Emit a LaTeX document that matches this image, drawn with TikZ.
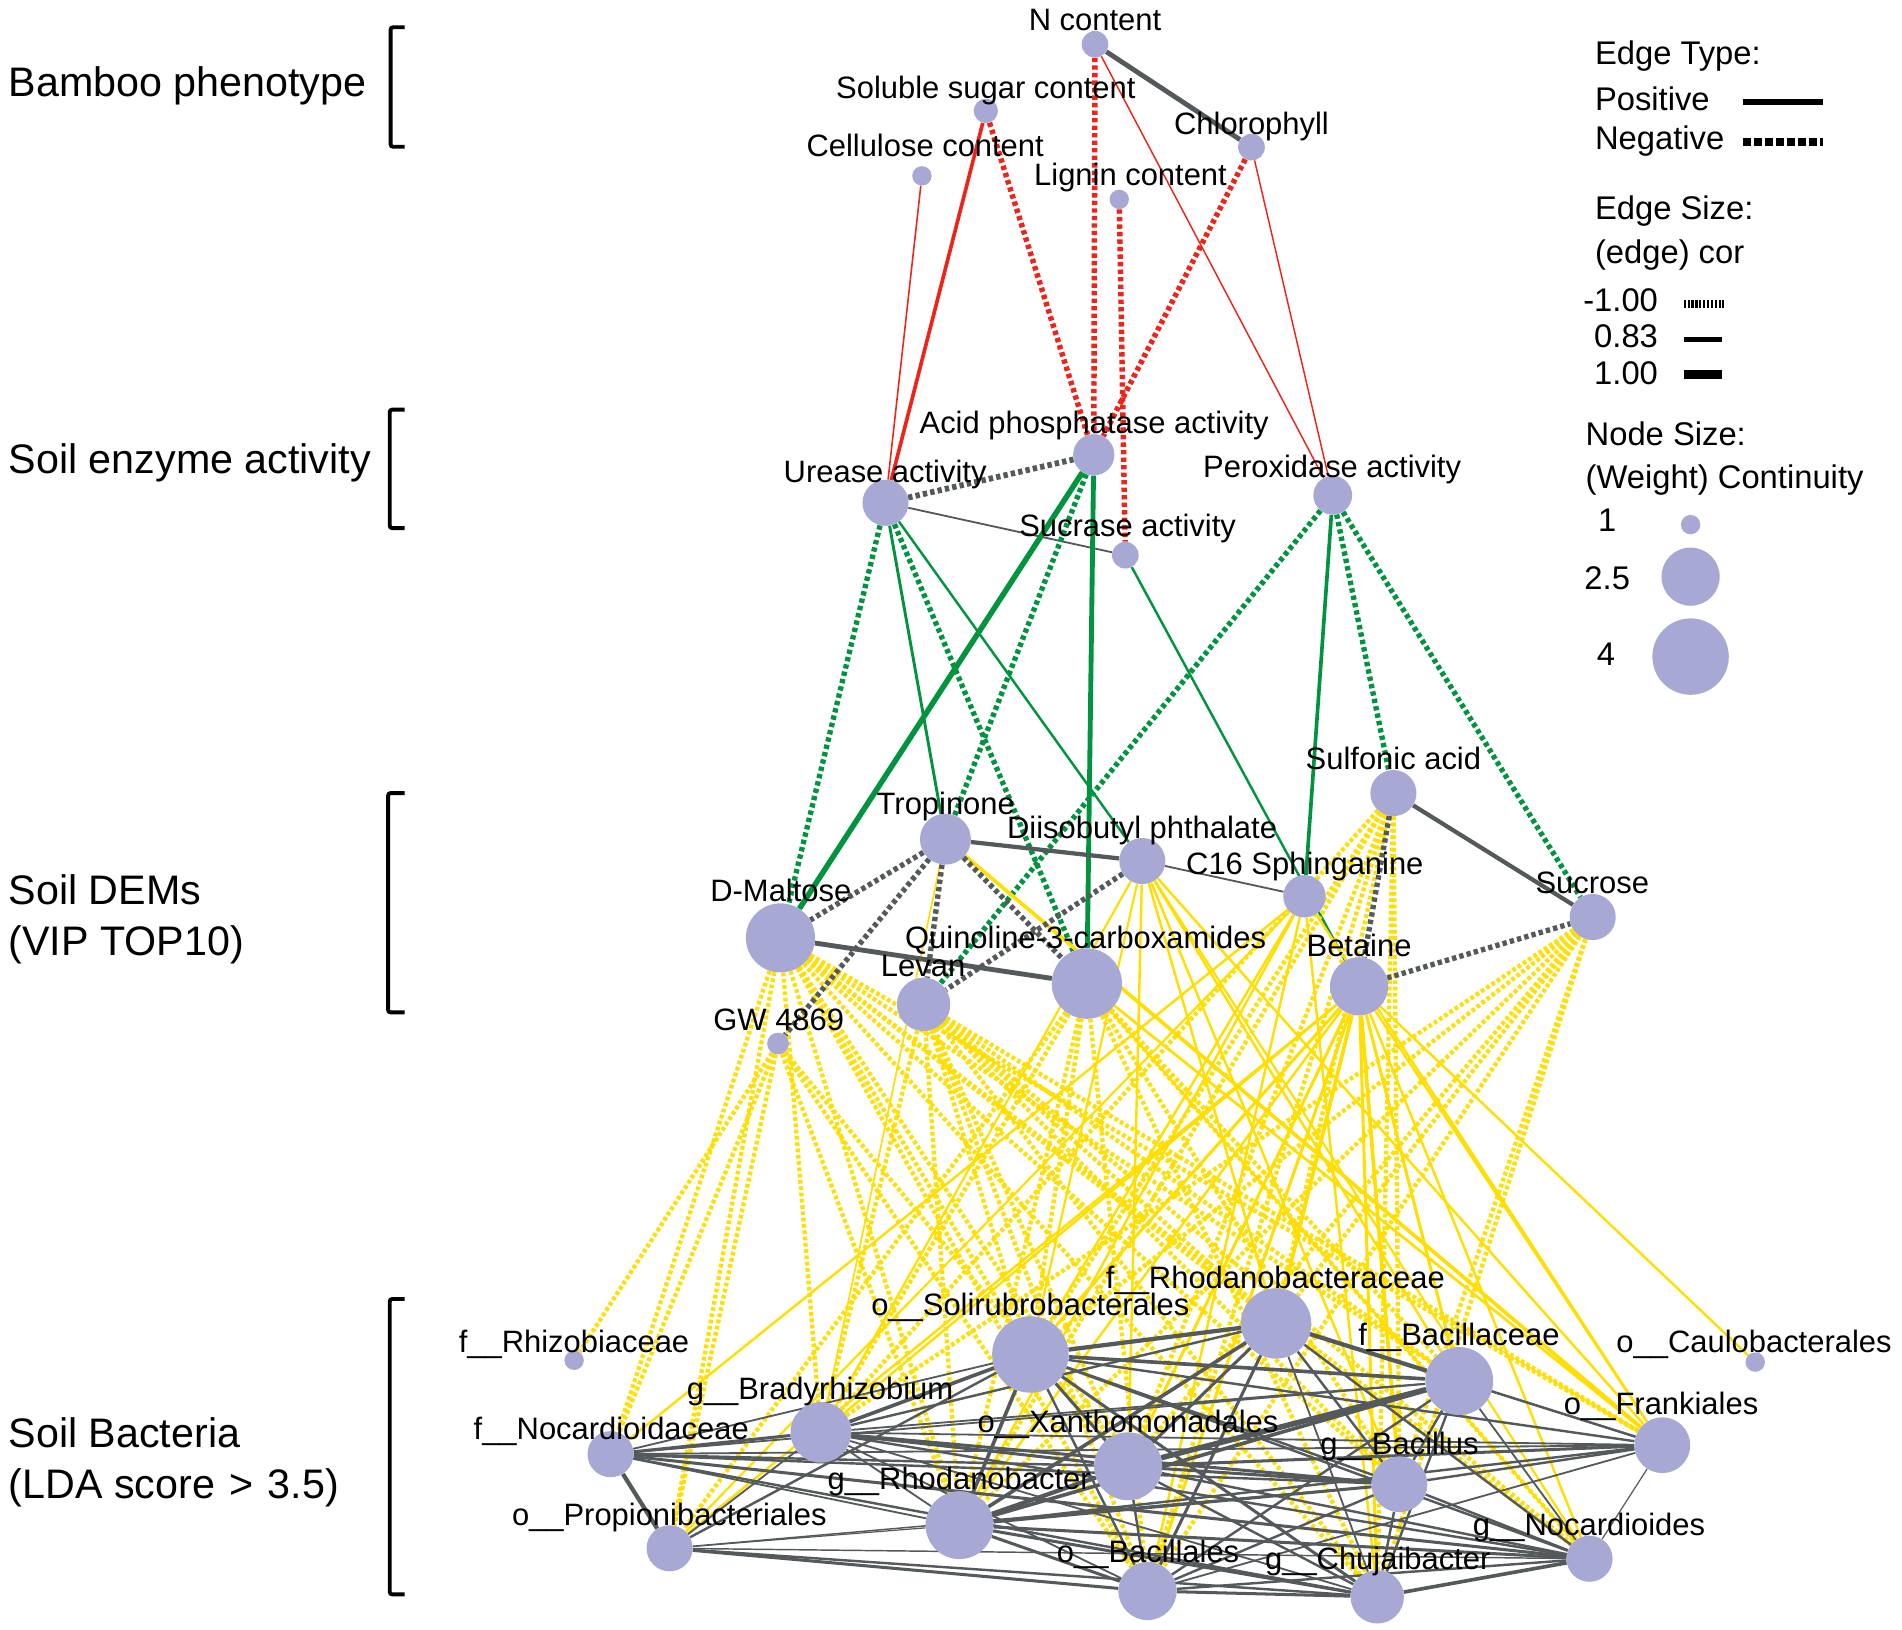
\documentclass[tikz,border=0pt]{standalone}
\usepackage{fontspec}
\setmainfont{Liberation Sans}
\usetikzlibrary{backgrounds}

\definecolor{vertcol}{RGB}{168,168,212}
\definecolor{redcol}{RGB}{236,36,26}
\definecolor{greencol}{RGB}{0,148,62}
\definecolor{yellowcol}{RGB}{255,222,0}
\definecolor{graycol}{RGB}{84,89,91}

\begin{document}
\begin{tikzpicture}[x=1pt,y=-1pt,
    vert/.style={circle,fill=vertcol,inner sep=0pt,minimum size=#1},
    lab/.style={font=\fontsize{25.5}{30}\selectfont,anchor=base,inner sep=0pt},
    grp/.style={font=\fontsize{34}{40}\selectfont,anchor=base west,inner sep=0pt},
    legtext/.style={font=\fontsize{27}{32}\selectfont,anchor=base west,inner sep=0pt},
    posedge/.style={line width=#1},
    negedge/.style={line width=#1,dash pattern=on 3.6pt off 2.6pt},
    ydot/.style={yellowcol,line width=3.6pt,dash pattern=on 3pt off 2.2pt},
    ysol/.style={yellowcol,line width=#1},
    bracket/.style={line width=3.2pt,rounded corners=2pt}]
    \useasboundingbox (0,0) rectangle (1568,1343);

    %% group labels and brackets
    \node[grp] (g-pheno) at (7,79.4) {Bamboo phenotype};
    \node[grp] (g-enzyme) at (7,390.6) {Soil enzyme activity};
    \node[grp] (g-dems) at (7,746) {Soil DEMs};
    \node[grp] (g-vip) at (7,787.4) {(VIP TOP10)};
    \node[grp] (g-bact) at (7,1193.6) {Soil Bacteria};
    \node[grp] (g-lda) at (7,1235) {(LDA score\hspace{0.35em}>\hspace{0.35em}3.5)};
    \draw[bracket] (333.5,22.5) -- (322,22.5) -- (322,121) -- (333.5,121);
    \draw[bracket] (333.5,337.7) -- (321.3,337.7) -- (321.3,435.4) -- (333.5,435.4);
    \draw[bracket] (333.5,653.8) -- (320,653.8) -- (320,834.6) -- (333.5,834.6);
    \draw[bracket] (333.5,1070.9) -- (321.3,1070.9) -- (321.3,1314.4) -- (333.5,1314.4);

    %% bamboo phenotype
    \node[vert=22] (ncont) at (902.7,36.5) {};
    \node[vert=20] (sugar) at (812.7,91.4) {};
    \node[vert=16] (cellu) at (760,145) {};
    \node[vert=16] (lignin) at (922.7,164.4) {};
    \node[vert=22] (chloro) at (1031.7,121.3) {};
    %% enzymes
    \node[vert=34] (acidp) at (901.7,374.9) {};
    \node[vert=38] (urease) at (730,414.5) {};
    \node[vert=32] (perox) at (1098.7,408.3) {};
    \node[vert=22] (sucrase) at (927.7,457.7) {};
    %% DEMs
    \node[vert=42] (tropin) at (779.4,691.8) {};
    \node[vert=38] (diiso) at (941.7,709.8) {};
    \node[vert=57] (maltose) at (643.4,773.2) {};
    \node[vert=58] (quinol) at (896,810.9) {};
    \node[vert=44] (levan) at (761.4,828) {};
    \node[vert=18] (gw) at (641.4,860.3) {};
    \node[vert=35] (sphing) at (1075.4,738.9) {};
    \node[vert=38] (sulfon) at (1148.7,653.8) {};
    \node[vert=38] (sucrose) at (1313,756) {};
    \node[vert=48] (betaine) at (1120.4,813.1) {};
    %% bacteria
    \node[vert=16] (rhizo) at (473.3,1121.4) {};
    \node[vert=38] (nocfam) at (503.3,1198.8) {};
    \node[vert=38] (propio) at (552,1276.4) {};
    \node[vert=50] (brady) at (676.7,1180.8) {};
    \node[vert=63] (soliru) at (849.4,1116.6) {};
    \node[vert=58] (rhodfam) at (1052,1091) {};
    \node[vert=56] (xantho) at (930,1208.8) {};
    \node[vert=56] (rhodgen) at (791,1257.3) {};
    \node[vert=48] (bacles) at (946,1311.6) {};
    \node[vert=56] (bacfam) at (1203,1138.5) {};
    \node[vert=46] (bacil) at (1153.7,1223.6) {};
    \node[vert=46] (frank) at (1370.4,1191.4) {};
    \node[vert=38] (nocgen) at (1310.4,1285) {};
    \node[vert=44] (chuja) at (1135.4,1316.4) {};
    \node[vert=16] (caulo) at (1447,1122.9) {};

    \begin{scope}[on background layer]
    %% phenotype - enzyme
    \draw[redcol,posedge=1.3pt] (cellu) -- (urease);
    \draw[redcol,posedge=3pt] (sugar) -- (urease);
    \draw[redcol,negedge=4.5pt] (sugar) -- (acidp);
    \draw[redcol,negedge=4.5pt] (ncont) -- (acidp);
    \draw[redcol,posedge=1.2pt] (ncont) -- (perox);
    \draw[redcol,negedge=4.5pt] (lignin) -- (sucrase);
    \draw[redcol,negedge=4.5pt] (chloro) -- (acidp);
    \draw[redcol,posedge=1.2pt] (chloro) -- (perox);
    \draw[graycol,posedge=4pt] (ncont) -- (chloro);
    \draw[graycol,negedge=4.8pt] (urease) -- (acidp);
    \draw[graycol,posedge=1.5pt] (urease) -- (sucrase);
    %% enzyme - DEMs
    \draw[greencol,negedge=4.4pt] (urease) -- (maltose);
    \draw[greencol,posedge=2.4pt] (urease) -- (tropin);
    \draw[greencol,negedge=4.4pt] (urease) -- (quinol);
    \draw[greencol,posedge=2pt] (urease) -- (diiso);
    \draw[greencol,posedge=4.5pt] (acidp) -- (maltose);
    \draw[greencol,negedge=4.4pt] (acidp) -- (tropin);
    \draw[greencol,posedge=4pt] (acidp) -- (quinol);
    \draw[greencol,posedge=2pt] (sucrase) -- (betaine);
    \draw[greencol,negedge=4.4pt] (perox) -- (levan);
    \draw[greencol,posedge=3pt] (perox) -- (sphing);
    \draw[greencol,negedge=4.4pt] (perox) -- (sulfon);
    \draw[greencol,negedge=4.4pt] (perox) -- (sucrose);
    %% DEMs - bacteria
    \foreach \a/\b in {maltose/nocfam,maltose/propio,maltose/brady,maltose/soliru,
        maltose/rhodgen,maltose/xantho,maltose/bacles,maltose/rhodfam,maltose/bacil,
        maltose/bacfam,maltose/frank,maltose/nocgen,maltose/chuja,
        gw/rhizo,gw/nocfam,gw/propio,gw/rhodgen,gw/bacles,gw/xantho,
        levan/brady,levan/soliru,levan/rhodgen,levan/xantho,levan/bacles,levan/rhodfam,
        levan/bacfam,levan/bacil,levan/frank,levan/nocgen,levan/chuja,
        quinol/propio,quinol/brady,quinol/soliru,quinol/rhodgen,quinol/bacles,
        quinol/bacfam,quinol/bacil,quinol/nocgen,quinol/chuja,
        sulfon/brady,sulfon/soliru,sulfon/xantho,sulfon/rhodgen,sulfon/rhodfam,
        sulfon/bacil,sulfon/chuja,sulfon/bacles,
        sucrose/soliru,sucrose/xantho,sucrose/rhodgen,sucrose/rhodfam,sucrose/bacil,
        sucrose/bacles,sucrose/chuja,sucrose/brady}
        \draw[ydot] (\a) -- (\b);
    \foreach \a/\b/\w in {betaine/propio/2,betaine/brady/2,betaine/soliru/2.5,
        betaine/rhodgen/2,betaine/xantho/2.5,betaine/bacles/2.5,betaine/rhodfam/3,
        betaine/bacfam/2.5,betaine/bacil/3,betaine/chuja/2.5,betaine/nocgen/2,
        betaine/frank/2,betaine/caulo/2,
        diiso/brady/1.8,diiso/soliru/1.8,diiso/xantho/2,diiso/rhodfam/2,diiso/bacil/2,
        diiso/frank/2,diiso/nocgen/1.8,diiso/bacfam/2,
        sphing/nocfam/2,sphing/propio/1.8,sphing/soliru/2,sphing/rhodgen/2,
        sphing/bacles/2,sphing/chuja/2,sphing/frank/2,
        tropin/brady/1.4,tropin/frank/3,quinol/frank/2.2,quinol/nocgen/1.8}
        \draw[ysol=\w pt] (\a) -- (\b);
    %% DEMs
    \draw[graycol,posedge=3.5pt] (tropin) -- (diiso);
    \draw[graycol,posedge=1.5pt] (diiso) -- (sphing);
    \draw[graycol,posedge=4pt] (maltose) -- (quinol);
    \draw[graycol,negedge=4.4pt] (tropin) -- (maltose);
    \draw[graycol,negedge=4.4pt] (tropin) -- (gw);
    \draw[graycol,negedge=4.4pt] (tropin) -- (levan);
    \draw[graycol,negedge=4.4pt] (tropin) -- (quinol);
    \draw[graycol,negedge=4.4pt] (diiso) -- (levan);
    \draw[graycol,posedge=3.5pt] (sulfon) -- (sucrose);
    \draw[graycol,negedge=4.4pt] (sulfon) -- (betaine);
    \draw[graycol,negedge=4.4pt] (betaine) -- (sucrose);
    %% bacteria
    \foreach \a/\b/\w in {nocfam/propio/3.5,nocfam/brady/2.5,nocfam/xantho/2,
        nocfam/bacil/2,nocfam/frank/1.5,nocfam/nocgen/2.5,nocfam/chuja/2,
        nocfam/rhodgen/1.5,nocfam/soliru/1.5,nocfam/bacfam/1.5,
        propio/rhodgen/1,propio/bacles/2.5,propio/chuja/2,propio/nocgen/1.2,
        propio/soliru/2,propio/brady/1.5,propio/bacil/1.2,
        brady/soliru/3,brady/rhodfam/2,brady/xantho/2.5,brady/rhodgen/1.5,
        brady/bacil/2.5,brady/frank/1.5,brady/bacfam/1.5,brady/chuja/1.5,
        brady/nocgen/2,brady/bacles/1.5,
        soliru/rhodfam/3.5,soliru/bacfam/3,soliru/xantho/2.5,soliru/rhodgen/3,
        soliru/bacles/2,soliru/chuja/2.5,soliru/frank/2,soliru/nocgen/2,soliru/bacil/2,
        rhodfam/bacfam/3.5,rhodfam/xantho/2.5,rhodfam/rhodgen/3,rhodfam/bacles/2.5,
        rhodfam/bacil/2,rhodfam/chuja/1.5,rhodfam/nocgen/2,rhodfam/frank/1.5,
        xantho/rhodgen/3.5,xantho/bacfam/4.5,xantho/bacil/2.5,xantho/frank/2.5,
        xantho/nocgen/2,xantho/chuja/2,xantho/bacles/2,
        rhodgen/bacfam/3,rhodgen/bacil/2.5,rhodgen/frank/2,rhodgen/nocgen/2.5,
        rhodgen/chuja/2.5,rhodgen/bacles/2.5,
        bacles/bacfam/2,bacles/bacil/2,bacles/chuja/2.5,bacles/nocgen/2,bacles/frank/1.5,
        bacfam/bacil/2,bacfam/frank/2,bacfam/chuja/2,bacfam/nocgen/1.5,
        bacil/frank/2,bacil/nocgen/2,bacil/chuja/2,frank/nocgen/1,chuja/nocgen/3}
        \draw[graycol,posedge=\w pt] (\a) -- (\b);
    \end{scope}

    %% node labels
    \node[lab] (ncont-l) at (902.7,25) {N content};
    \node[lab] (sugar-l) at (812.7,81.4) {Soluble sugar content};
    \node[lab] (cellu-l) at (762.7,129.3) {Cellulose content};
    \node[lab] (lignin-l) at (932,153.3) {Lignin content};
    \node[lab] (chloro-l) at (1031.7,110.8) {Chlorophyll};
    \node[lab] (acidp-l) at (902,357.5) {Acid phosphatase activity};
    \node[lab] (urease-l) at (729.7,397.4) {Urease activity};
    \node[lab] (perox-l) at (1098.2,393.4) {Peroxidase activity};
    \node[lab] (sucrase-l) at (929.6,442.5) {Sucrase activity};
    \node[lab] (tropin-l) at (779.7,671.8) {Tropinone};
    \node[lab] (diiso-l) at (941.5,690.9) {Diisobutyl phthalate};
    \node[lab] (sphing-l) at (1075.7,721.2) {C16 Sphinganine};
    \node[lab] (maltose-l) at (643.7,743.2) {D-Maltose};
    \node[lab] (quinol-l) at (895,781.7) {Quinoline-3-carboxamides};
    \node[lab] (levan-l) at (761,805.4) {Levan};
    \node[lab] (gw-l) at (642,849.7) {GW 4869};
    \node[lab] (sulfon-l) at (1148.7,634.7) {Sulfonic acid};
    \node[lab] (sucrose-l) at (1312.7,736.9) {Sucrose};
    \node[lab] (betaine-l) at (1120.4,788.3) {Betaine};
    \node[lab] (rhizo-l) at (473.2,1115.1) {f\_\_Rhizobiaceae};
    \node[lab] (nocfam-l) at (503.9,1186.5) {f\_\_Nocardioidaceae};
    \node[lab] (propio-l) at (551.8,1257.9) {o\_\_Propionibacteriales};
    \node[lab] (brady-l) at (676,1153.7) {g\_\_Bradyrhizobium};
    \node[lab] (soliru-l) at (849.4,1084.3) {o\_\_Solirubrobacterales};
    \node[lab] (rhodfam-l) at (1051.4,1062.3) {f\_\_Rhodanobacteraceae};
    \node[lab] (xantho-l) at (929.9,1180.8) {o\_\_Xanthomonadales};
    \node[lab] (rhodgen-l) at (790.7,1227.9) {g\_\_Rhodanobacter};
    \node[lab] (bacles-l) at (946.5,1287.9) {o\_\_Bacillales};
    \node[lab] (bacfam-l) at (1202.7,1109.4) {f\_\_Bacillaceae};
    \node[lab] (bacil-l) at (1153.7,1199.3) {g\_\_Bacillus};
    \node[lab] (frank-l) at (1369.4,1166.5) {o\_\_Frankiales};
    \node[lab] (nocgen-l) at (1310,1265.6) {g\_\_Nocardioides};
    \node[lab] (chuja-l) at (1135.8,1293.6) {g\_\_Chujaibacter};
    \node[lab] (caulo-l) at (1446,1115.1) {o\_\_Caulobacterales};

    %% legend
    \node[legtext] (edgetype) at (1314.7,52.8) {Edge Type:};
    \node[legtext] (positive) at (1314.7,90.8) {Positive};
    \node[legtext] (negative) at (1314.7,123.3) {Negative};
    \draw[line width=5pt] (1437,84.2) -- (1503,84.2);
    \draw[line width=7pt,dash pattern=on 6.5pt off 2.6pt] (1437,117) -- (1503,117);
    \node[legtext] (edgesize) at (1314.7,181.3) {Edge Size:};
    \node[legtext] (edgecor) at (1314.7,217) {(edge) cor};
    \node[legtext,anchor=base east] (cor-a) at (1367,257) {-1.00};
    \node[legtext,anchor=base east] (cor-b) at (1367,286.4) {0.83};
    \node[legtext,anchor=base east] (cor-c) at (1367,316.9) {1.00};
    \draw[line width=7pt,dash pattern=on 1.8pt off 1.4pt] (1388,250.7) -- (1421,250.7);
    \draw[line width=4.5pt] (1388,279.8) -- (1419.4,279.8);
    \draw[line width=8pt] (1388,308.8) -- (1419.4,308.8);
    \node[legtext] (nodesize) at (1307,366.9) {Node Size:};
    \node[legtext] (weight) at (1307,402.6) {(Weight) Continuity};
    \node[legtext,anchor=base] (size-a) at (1325,438.2) {1};
    \node[legtext,anchor=base] (size-b) at (1325,486.2) {2.5};
    \node[legtext,anchor=base] (size-c) at (1324,549) {4};
    \node[vert=16] (dot-a) at (1393.7,432.5) {};
    \node[vert=48] (dot-b) at (1393.7,475.4) {};
    \node[vert=63] (dot-c) at (1393.7,541.3) {};
\end{tikzpicture}
\end{document}
